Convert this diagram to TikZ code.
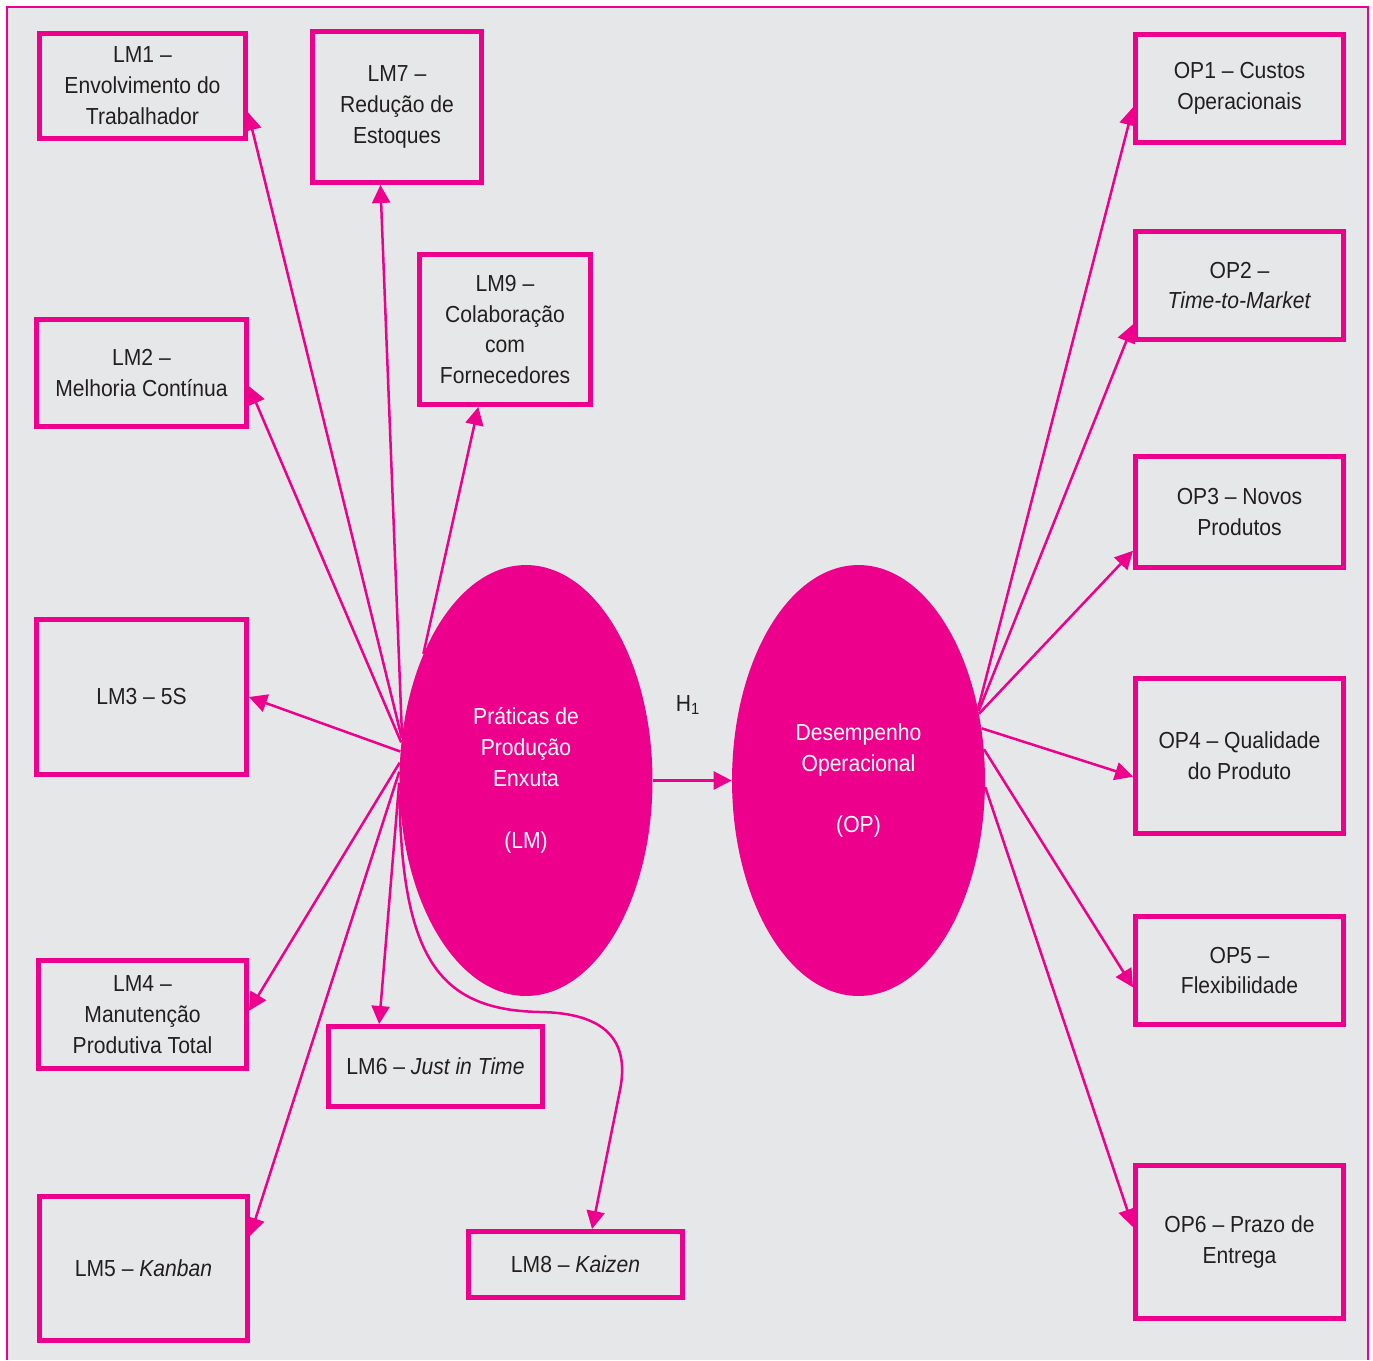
\documentclass[tikz,border=0pt]{standalone}
\usepackage{fontspec}
\setmainfont{Liberation Sans}[FakeStretch=0.91]
\usetikzlibrary{shapes.geometric,arrows.meta}
\definecolor{lmpink}{HTML}{EC008C}
\definecolor{bggray}{HTML}{E6E7E8}
\definecolor{txtgray}{HTML}{231F20}
\tikzset{
  box/.style 2 args={draw=lmpink, line width=0.1cm, minimum width=#1cm, minimum height=#2cm, inner sep=0pt, align=center, text=txtgray},
  latent/.style={ellipse, fill=lmpink, minimum width=5.06cm, minimum height=8.62cm, inner sep=0pt, align=center, text=white},
  link/.style={lmpink, line width=0.05cm, -{Triangle[length=0.36cm,width=0.36cm]}}
}
\begin{document}
\begin{tikzpicture}[x=0.02cm, y=-0.02cm, font=\fontsize{13.2pt}{17.6pt}\selectfont]
  \useasboundingbox (0,0) rectangle (1373,1360);
  % frame
  \fill[bggray] (7,7) rectangle (1368,1360);
  \draw[lmpink, line width=0.03cm] (7,1360) -- (7,7) -- (1368,7) -- (1368,1360);

  % constructs
  \node[latent] (lm) at (526,780.5) {Práticas de\\Produção\\Enxuta\\[17.6pt](LM)};
  \node[latent] (op) at (858.5,780.5) {Desempenho\\Operacional\\[17.6pt](OP)};

  % lean practices
  \node[box={4.12}{2.10}] (lm1) at (142.5,86) {LM1 --\\Envolvimento do\\Trabalhador};
  \node[box={3.38}{3.02}] (lm7) at (397,107) {LM7 --\\Redução de\\Estoques};
  \node[box={3.42}{3.00}] (lm9) at (505,329.5) {LM9 --\\Colaboração\\com\\Fornecedores};
  \node[box={4.20}{2.14}] (lm2) at (141.5,373) {LM2 --\\Melhoria Contínua};
  \node[box={4.20}{3.10}] (lm3) at (141.5,697) {LM3 -- 5S};
  \node[box={4.16}{2.16}] (lm4) at (142.5,1014.5) {LM4 --\\Manutenção\\Produtiva Total};
  \node[box={4.16}{2.88}] (lm5) at (143.5,1268.5) {LM5 -- \textit{Kanban}};
  \node[box={4.28}{1.60}] (lm6) at (435.5,1066.5) {LM6 -- \textit{Just in Time}};
  \node[box={4.28}{1.32}] (lm8) at (575.5,1264.5) {LM8 -- \textit{Kaizen}};

  % operational performance
  \node[box={4.16}{2.16}] (op1) at (1239.5,88.5) {OP1 -- Custos\\Operacionais};
  \node[box={4.16}{2.16}] (op2) at (1239.5,285.5) {OP2 --\\\textit{Time-to-Market}};
  \node[box={4.16}{2.22}] (op3) at (1239.5,512) {OP3 -- Novos\\Produtos};
  \node[box={4.16}{3.10}] (op4) at (1239.5,756) {OP4 -- Qualidade\\do Produto};
  \node[box={4.16}{2.16}] (op5) at (1239.5,970.5) {OP5 --\\Flexibilidade};
  \node[box={4.16}{3.06}] (op6) at (1239.5,1242) {OP6 -- Prazo de\\Entrega};

  % arrows
  \draw[link] (lm.161) -- (lm1.-14);
  \draw[link] (lm.160) -- (lm7.-102);
  \draw[link] (lm.129) -- (lm9.-109);
  \draw[link] (lm.163) -- (lm2.-7);
  \draw[link] (lm.167) -- (lm3.east);
  \draw[link] (lm.172) -- (lm4.2);
  \draw[link] (lm.176) -- (lm5.17);
  \draw[link] (lm.181) -- (lm6.143);
  \draw[link] (lm.186) .. controls (402,960) and (440,1010) .. (540,1012)
    .. controls (605,1013) and (630,1040) .. (620,1090) -- (lm8.65);

  \draw[link] (lm.east) -- (op.west);
  \node[text=txtgray] (h1) at (688,705) {H\textsubscript{1}};

  \draw[link] (op.31) -- (op1.190);
  \draw[link] (op.30) -- (op2.200);
  \draw[link] (op.29) -- (op3.200);
  \draw[link] (op.23) -- (op4.191);
  \draw[link] (op.14) -- (op5.189);
  \draw[link] (op.-3) -- (op6.172);
\end{tikzpicture}
\end{document}
